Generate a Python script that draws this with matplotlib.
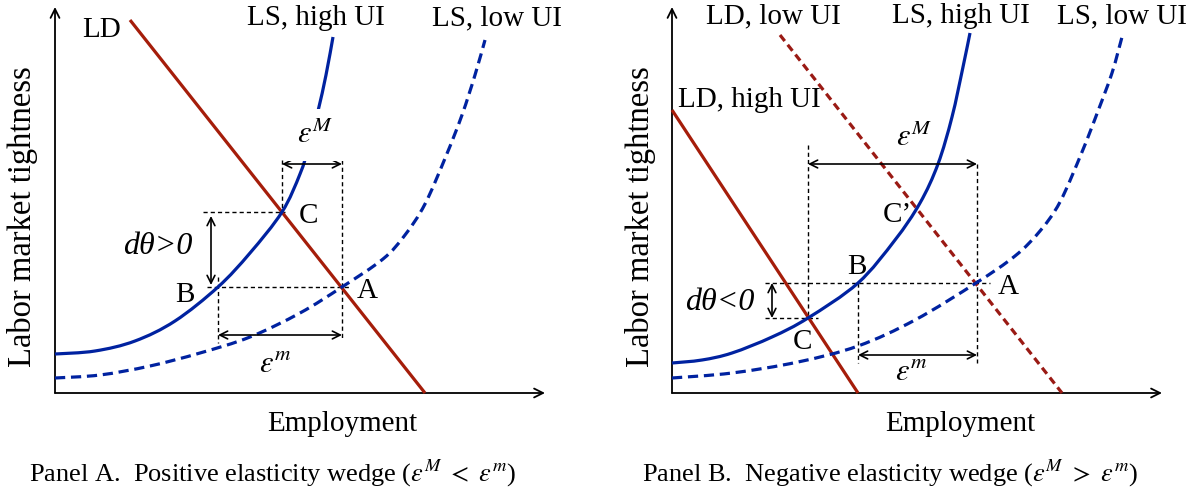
import matplotlib
matplotlib.use('Agg')
import matplotlib.pyplot as plt
from matplotlib.path import Path
from matplotlib.patches import PathPatch

plt.rcParams['font.family'] = ['Liberation Serif', 'DejaVu Serif']
plt.rcParams['mathtext.fontset'] = 'stix'

# ---------------- Panel A data (employment, tightness) ----------------
A_LD_E = [75, 370]
A_LD_T = [373, 0]
A_LSH_E = [0, 40, 80, 120, 163, 195, 227, 245, 254, 263, 271, 278]
A_LSH_T = [39, 42, 52, 72, 106, 140, 181, 219, 247, 282, 318, 356]
A_LSL_E = [0, 45, 95, 145, 195, 245, 287, 328, 350, 370, 391, 407, 420, 430]
A_LSL_T = [15, 18, 27, 40, 56, 80, 106, 134, 158, 189, 237, 278, 318, 353]
A_ptA = (287, 106)
A_ptB = (163, 106)
A_ptC = (227, 181)

# ---------------- Panel B data ----------------
B_LDH_E = [0, 186]
B_LDH_T = [283, 0]
B_LDL_E = [108, 390]
B_LDL_T = [358, 0]
B_LSH_E = [0, 30, 60, 100, 136, 186, 223, 248, 266, 280, 291, 298]
B_LSH_T = [30, 33, 40, 56, 75, 110, 153, 190, 229, 276, 326, 360]
B_LSL_E = [0, 60, 126, 186, 243, 304, 343, 368, 388, 410, 426, 440, 450]
B_LSL_T = [15, 20, 31, 47, 73, 110, 137, 162, 191, 241, 282, 320, 356]
B_ptA = (305, 110)
B_ptB = (186, 110)
B_ptC = (136, 75)

RED = '#A51D0A'
RED_D = '#9A1A14'
BLUE = '#0022A0'
FS = 21
FS_MATH = 22
W, H = 1199, 495

fig = plt.figure(figsize=(W / 100, H / 100), dpi=100)


def make_ax(left_px, width_px, ox, oy):
    ax = fig.add_axes([left_px / W, 0, width_px / W, 1])
    ax.set_xlim(left_px - ox, left_px + width_px - ox)
    ax.set_ylim(oy - H, oy)
    ax.axis('off')
    return ax


def curve(ax, xs, ys, **kw):
    """Smooth curve (Catmull-Rom as cubic Bezier) through the read points."""
    pts = list(zip(xs, ys))
    n = len(pts)
    verts = [pts[0]]
    codes = [Path.MOVETO]
    for i in range(n - 1):
        p0 = pts[i - 1] if i > 0 else pts[i]
        p1 = pts[i]
        p2 = pts[i + 1]
        p3 = pts[i + 2] if i + 2 < n else pts[i + 1]
        c1 = (p1[0] + (p2[0] - p0[0]) / 6.0, p1[1] + (p2[1] - p0[1]) / 6.0)
        c2 = (p2[0] - (p3[0] - p1[0]) / 6.0, p2[1] - (p3[1] - p1[1]) / 6.0)
        verts += [c1, c2, p2]
        codes += [Path.CURVE4] * 3
    kw.setdefault('zorder', 3)
    ax.add_patch(PathPatch(Path(verts, codes), fill=False, **kw))


def arrow(ax, p0, p1, style='<->', lw=1.2, ms=14):
    ax.annotate('', xy=p1, xytext=p0,
                arrowprops=dict(arrowstyle=style, lw=lw, color='black',
                                shrinkA=0, shrinkB=0, mutation_scale=ms),
                annotation_clip=False)


def dotted(ax, xs, ys):
    ax.plot(xs, ys, color='black', lw=1.0, linestyle=(0, (3, 2.2)), zorder=1)


def txt(ax, x, y, s, **kw):
    kw.setdefault('fontsize', FS)
    ax.text(x, y, s, ha='center', va='center', **kw)


def axes_arrows(ax):
    arrow(ax, (0, 0), (490, 0), style='->', lw=1.3, ms=16)
    arrow(ax, (0, 0), (0, 386), style='->', lw=1.3, ms=16)


CAPTION_A = r'Panel A.  Positive elasticity wedge ($\varepsilon^{M}\ <\ \varepsilon^{m}$)'
CAPTION_B = r'Panel B.  Negative elasticity wedge ($\varepsilon^{M}\ >\ \varepsilon^{m}$)'

# ---------------- Panel A ----------------
axA = make_ax(0, 600, 55, 393)
axes_arrows(axA)
axA.plot(A_LD_E, A_LD_T, color=RED, lw=2.3, solid_capstyle='butt', zorder=3)
curve(axA, A_LSH_E, A_LSH_T, edgecolor=BLUE, lw=2.3)
curve(axA, A_LSL_E, A_LSL_T, edgecolor=BLUE, lw=2.3, linestyle=(0, (3.2, 1.8)))

eA, tA = A_ptA
eB, tB = A_ptB
eC, tC = A_ptC
dotted(axA, [148, eC + 3], [tC, tC])
dotted(axA, [152, eA + 8], [tA, tA])
dotted(axA, [eC, eC], [233, tC])
dotted(axA, [eA, eA], [233, 53])
dotted(axA, [eB, eB], [116, 50])
arrow(axA, (eC, 229), (eA, 229))
arrow(axA, (eB, 58), (eA, 58))
arrow(axA, (156, tA + 2), (156, tC - 4))

txt(axA, 47, 363, 'LD')
txt(axA, 261, 375, 'LS, high UI')
txt(axA, 442, 375, 'LS, low UI')
txt(axA, 254, 177, 'C')
txt(axA, 130, 98, 'B')
txt(axA, 312, 102, 'A')
txt(axA, 103, 146, 'dθ>0', style='italic', fontsize=23)
axA.text(260, 258, r'$\varepsilon^{M}$', ha='center', va='center', fontsize=FS_MATH,
         zorder=5, bbox=dict(facecolor='white', edgecolor='none', pad=8))
txt(axA, 220, 29, r'$\varepsilon^{m}$', fontsize=FS_MATH)
txt(axA, 287, -31, 'Employment')
txt(axA, -33, 176, 'Labor market tightness', rotation=90, fontsize=23.5)
txt(axA, 218, -80, CAPTION_A, fontsize=19)

# ---------------- Panel B ----------------
axB = make_ax(600, 599, 672, 393)
axes_arrows(axB)
axB.plot(B_LDH_E, B_LDH_T, color=RED, lw=2.3, solid_capstyle='butt', zorder=3)
axB.plot(B_LDL_E, B_LDL_T, color=RED_D, lw=2.3, linestyle=(0, (2.4, 1.5)), zorder=3)
curve(axB, B_LSH_E, B_LSH_T, edgecolor=BLUE, lw=2.3)
curve(axB, B_LSL_E, B_LSL_T, edgecolor=BLUE, lw=2.3, linestyle=(0, (3.2, 1.8)))

eA, tA = B_ptA
eB, tB = B_ptB
eC, tC = B_ptC
dotted(axB, [93, eA + 13], [tA, tA])
dotted(axB, [93, eC + 10], [tC, tC])
dotted(axB, [eC, eC], [248, tC])
dotted(axB, [eA, eA], [229, 30])
dotted(axB, [eB, eB], [tB, 30])
arrow(axB, (eC, 229), (eA, 229))
arrow(axB, (eB, 38), (eA, 38))
arrow(axB, (100, tA), (100, tC))

txt(axB, 101, 377, 'LD, low UI')
txt(axB, 289, 377, 'LS, high UI')
txt(axB, 450, 377, 'LS, low UI')
txt(axB, 77, 293, 'LD, high UI')
txt(axB, 225, 178, 'C’')
txt(axB, 185, 126, 'B')
txt(axB, 130, 51, 'C')
txt(axB, 336, 106, 'A')
txt(axB, 48, 91, 'dθ<0', style='italic', fontsize=23)
txt(axB, 242, 255, r'$\varepsilon^{M}$', fontsize=FS_MATH)
txt(axB, 239, 21, r'$\varepsilon^{m}$', fontsize=FS_MATH)
txt(axB, 288, -31, 'Employment')
txt(axB, -32, 176, 'Labor market tightness', rotation=90, fontsize=23.5)
txt(axB, 218, -80, CAPTION_B, fontsize=19)

fig.savefig('out.png', dpi=100, facecolor='white')
